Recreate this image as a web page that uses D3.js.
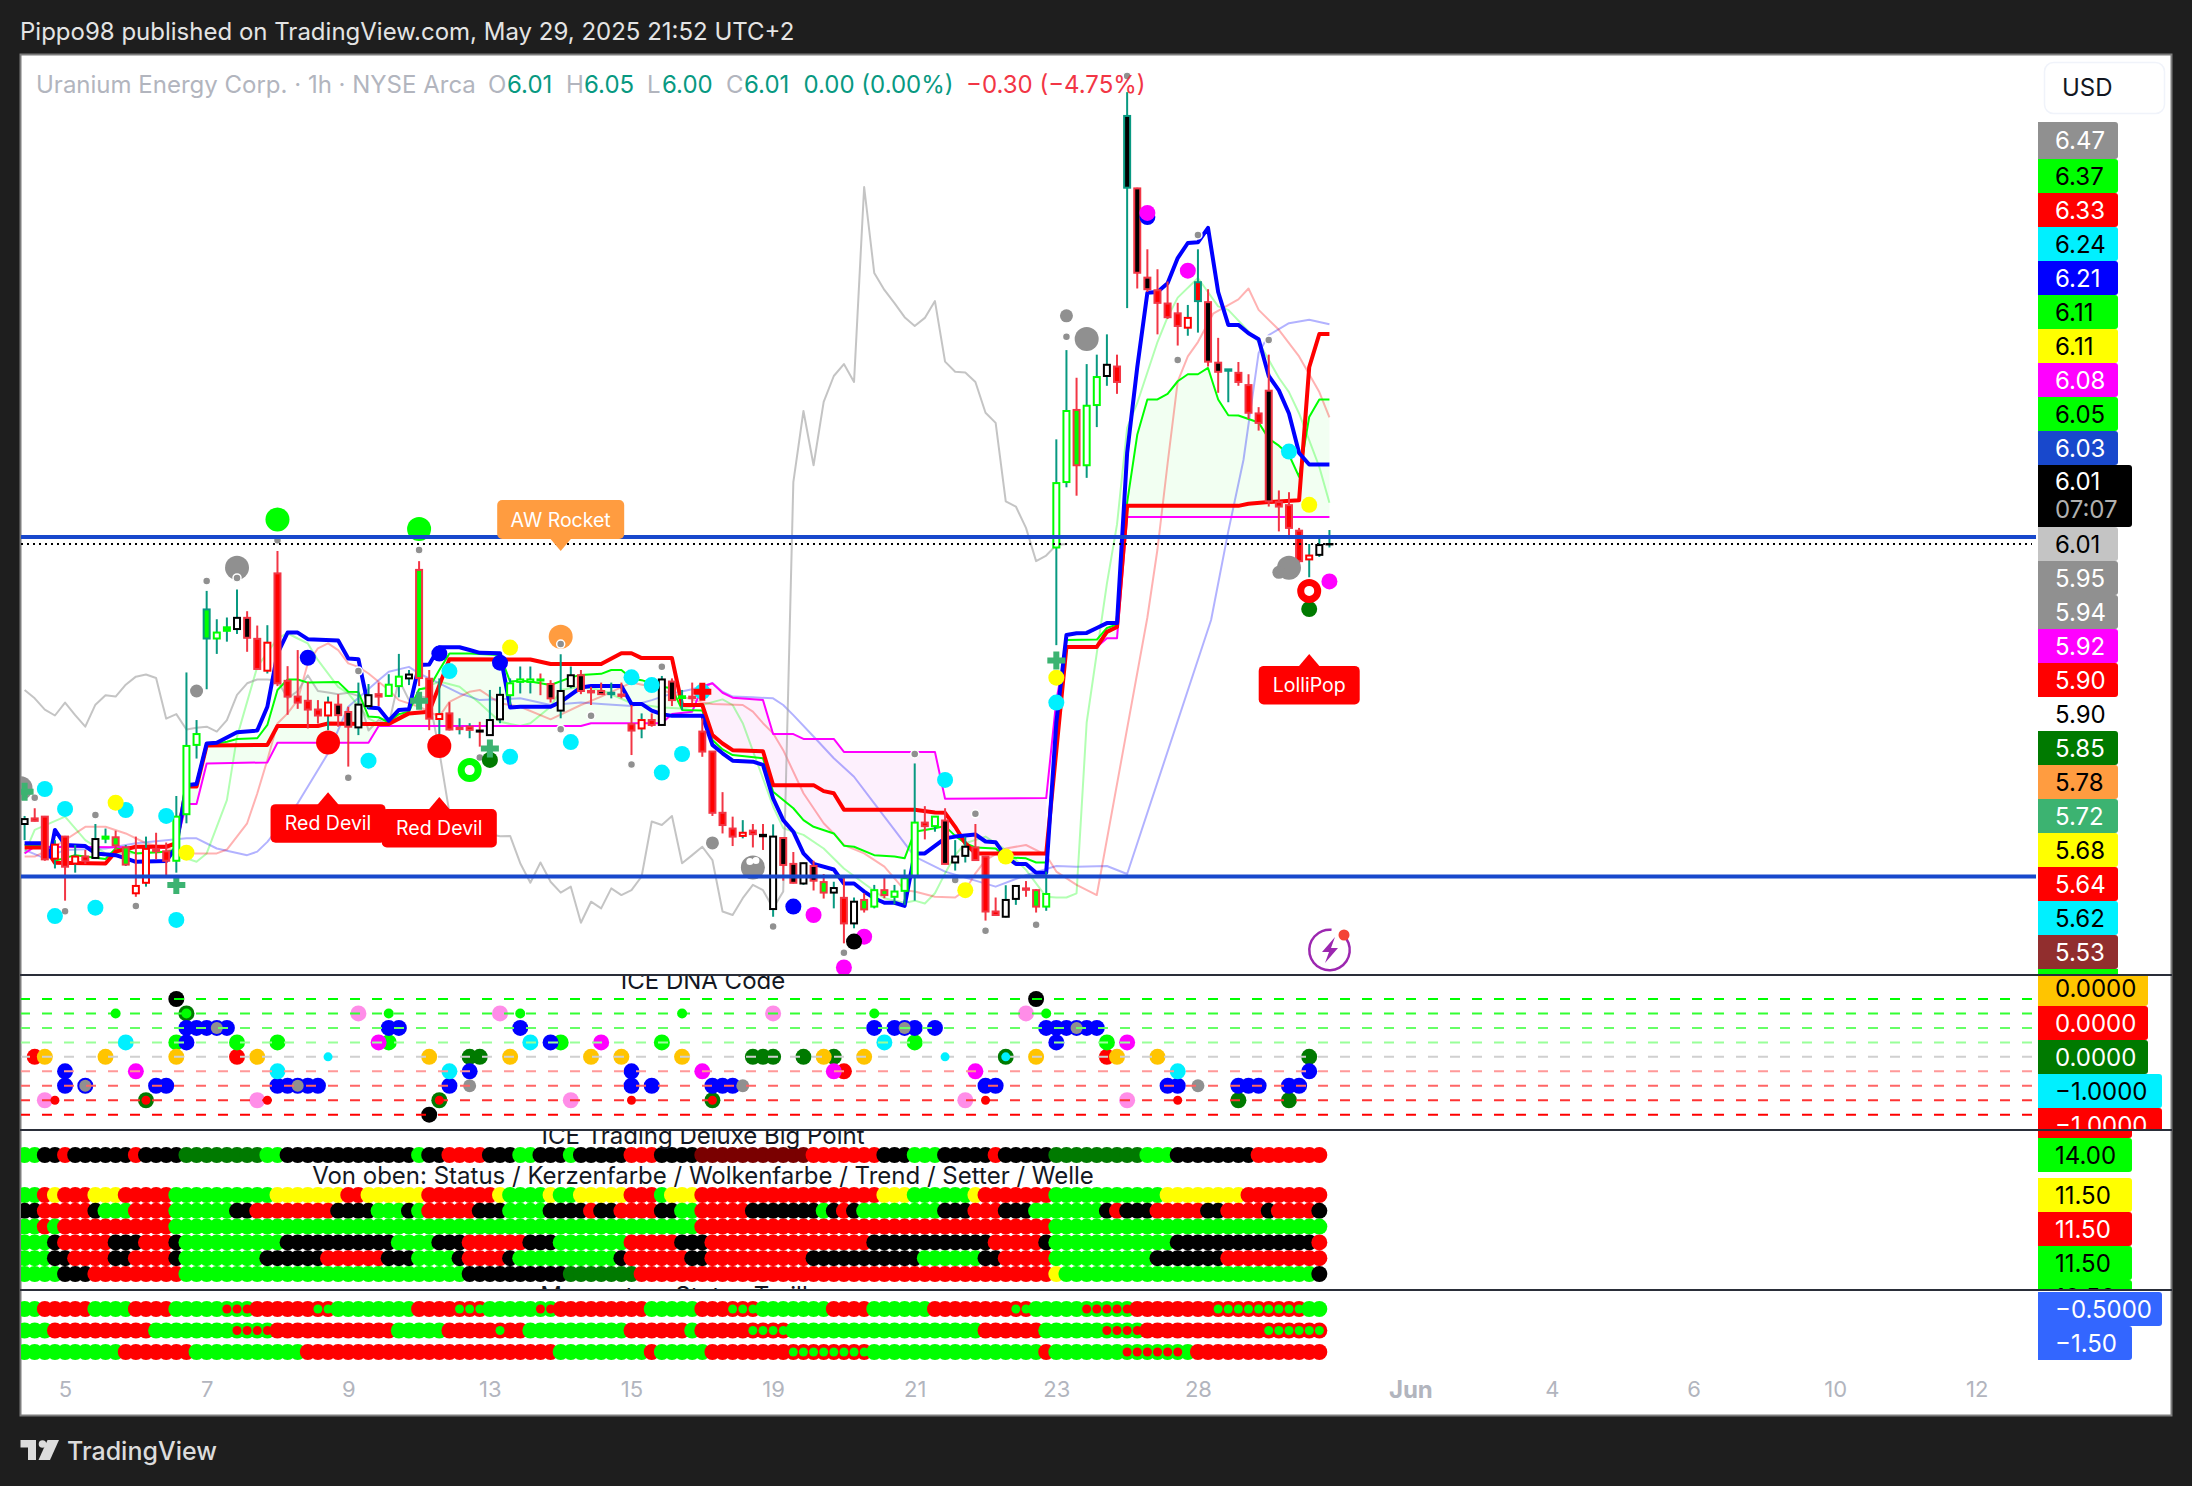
<!DOCTYPE html>
<html><head><meta charset="utf-8">
<script src="https://cdn.jsdelivr.net/npm/d3@7/dist/d3.min.js"></script>
<style>html,body{margin:0;padding:0;background:#1e1e1e}svg{display:block}text{font-family:Inter,"Noto Sans",sans-serif}</style>
</head><body><svg id="c" width="2192" height="1486"></svg>
<script>
// ---------- candles (bar 0 .. 129) ----------
const opens=[5.210,5.226,5.231,5.111,5.174,5.097,5.117,5.113,5.168,5.172,5.094,5.033,5.042,5.137,5.132,5.105,5.238,5.436,5.740,5.740,5.762,5.767,5.799,5.739,5.648,5.926,5.619,5.574,5.562,5.537,5.520,5.551,5.530,5.486,5.547,5.581,5.576,5.604,5.626,5.936,5.625,5.510,5.526,5.481,5.479,5.477,5.464,5.509,5.578,5.616,5.616,5.623,5.610,5.534,5.604,5.635,5.590,5.590,5.581,5.580,5.495,5.483,5.507,5.493,5.617,5.570,5.574,5.474,5.417,5.242,5.197,5.176,5.191,5.179,4.967,5.170,5.096,5.040,5.090,5.044,5.014,4.999,4.926,4.993,4.974,5.021,5.002,5.019,5.060,5.214,5.204,5.220,5.100,5.119,5.143,5.117,4.960,4.945,4.996,5.026,5.021,4.974,6.000,6.187,6.393,6.235,6.407,6.490,6.517,7.028,7.026,6.771,6.735,6.697,6.669,6.628,6.704,6.701,6.528,6.505,6.499,6.464,6.383,6.448,6.130,6.121,6.048,5.966,5.979,6.010];
const highs=[5.233,5.255,5.233,5.164,5.176,5.150,5.136,5.210,5.197,5.191,5.150,5.174,5.174,5.185,5.157,5.290,5.643,5.507,5.876,5.795,5.800,5.880,5.818,5.777,5.778,5.990,5.661,5.707,5.616,5.564,5.574,5.581,5.545,5.614,5.610,5.614,5.638,5.696,5.650,5.961,5.650,5.626,5.558,5.512,5.498,5.502,5.593,5.602,5.626,5.660,5.660,5.640,5.621,5.695,5.660,5.650,5.602,5.614,5.614,5.614,5.550,5.526,5.526,5.633,5.626,5.593,5.614,5.512,5.418,5.301,5.231,5.221,5.210,5.210,5.209,5.172,5.130,5.100,5.105,5.067,5.045,5.058,5.000,5.012,5.036,5.058,5.036,5.080,5.383,5.261,5.232,5.255,5.164,5.174,5.210,5.119,5.000,5.035,5.034,5.047,5.024,5.074,6.309,6.564,6.485,6.524,6.551,6.609,6.551,7.301,7.028,6.852,6.795,6.760,6.699,6.693,6.852,6.738,6.599,6.509,6.530,6.495,6.401,6.551,6.163,6.158,6.056,6.010,6.031,6.050];
const lows=[5.164,5.217,5.105,5.083,4.991,5.071,5.096,5.111,5.155,5.136,5.090,5.002,5.031,5.109,5.059,5.071,5.212,5.397,5.595,5.696,5.731,5.753,5.702,5.652,5.640,5.604,5.522,5.539,5.483,5.497,5.478,5.488,5.374,5.464,5.540,5.547,5.574,5.572,5.607,5.604,5.478,5.459,5.477,5.466,5.455,5.431,5.463,5.498,5.550,5.583,5.583,5.578,5.557,5.512,5.598,5.581,5.550,5.579,5.569,5.569,5.407,5.455,5.488,5.492,5.547,5.536,5.555,5.402,5.233,5.183,5.147,5.169,5.143,5.136,4.945,5.048,5.040,5.036,5.020,4.997,4.969,4.869,4.912,4.957,4.969,4.998,4.981,4.979,4.991,5.166,5.188,5.095,5.077,5.100,5.105,4.934,4.949,4.943,4.979,5.002,4.957,4.962,5.721,6.172,6.148,6.199,6.344,6.462,6.439,6.684,6.740,6.730,6.609,6.653,6.577,6.605,6.614,6.517,6.442,6.415,6.462,6.367,6.334,6.117,6.046,6.024,5.941,5.915,5.973,6.000];
const closes=[5.224,5.219,5.109,5.151,5.088,5.117,5.105,5.167,5.174,5.149,5.143,5.012,5.139,5.132,5.105,5.231,5.433,5.467,5.823,5.757,5.772,5.799,5.742,5.653,5.728,5.612,5.574,5.557,5.537,5.520,5.557,5.521,5.488,5.551,5.578,5.574,5.608,5.631,5.637,5.627,5.511,5.524,5.480,5.485,5.488,5.474,5.507,5.579,5.612,5.623,5.623,5.620,5.569,5.590,5.635,5.590,5.586,5.581,5.585,5.576,5.477,5.507,5.493,5.623,5.564,5.575,5.570,5.417,5.242,5.207,5.174,5.185,5.181,5.175,5.174,5.093,5.042,5.098,5.048,5.014,5.027,4.926,4.988,4.966,5.021,5.007,5.017,5.055,5.214,5.204,5.231,5.096,5.117,5.145,5.107,4.960,4.950,4.993,5.033,5.022,4.974,5.010,6.184,6.390,6.235,6.405,6.487,6.522,6.473,7.233,6.785,6.738,6.699,6.658,6.633,6.656,6.758,6.531,6.502,6.509,6.473,6.385,6.356,6.132,6.117,6.056,5.961,5.977,6.007,6.010];
const candleKinds="kRRrRrRkgL"+"LrrRRhhhTh"+"gkBRrRRRRR"+"rBBkkRhhkL"+"RrRRRDkkhh"+"hgBkkBRBZR"+"RrRkBgRRRR"+"RrRDkBBkBL"+"kRkLhLhhhR"+"hBkkRRRkkR"+"LhhhLhhkRK"+"BBRRRrSBBZ"+"RRRBRRRrkD";
// ---------- overlay lines: [bar, price] ----------
const lineBlue=[[0,5.155],[2,5.155],[2.5,5.117],[3,5.193],[4,5.150],[6,5.147],[7,5.126],[9,5.121],[10,5.112],[11,5.102],[14,5.104],[15,5.145],[16,5.321],[17,5.324],[18,5.440],[19,5.442],[21,5.472],[23,5.477],[24,5.545],[25,5.697],[26,5.757],[27,5.757],[28,5.738],[31,5.734],[32,5.683],[33,5.681],[34,5.543],[35,5.541],[36,5.505],[37,5.536],[38,5.538],[39,5.664],[40,5.666],[41,5.715],[43,5.715],[44,5.707],[45,5.699],[47,5.698],[48,5.543],[49,5.545],[52,5.545],[53,5.559],[55,5.600],[56,5.604],[59,5.604],[60,5.553],[61,5.553],[62,5.534],[63,5.524],[64,5.519],[67,5.519],[68,5.436],[69,5.412],[70,5.391],[72,5.388],[73,5.379],[74,5.283],[75,5.221],[76,5.188],[77,5.126],[78,5.096],[80,5.080],[81,5.040],[82,5.040],[83,5.017],[84,4.998],[85,4.985],[86,4.985],[87,4.976],[88,5.126],[89,5.126],[91,5.169],[92,5.174],[94,5.180],[95,5.160],[96,5.158],[97,5.117],[98,5.096],[99,5.096],[100,5.071],[101,5.071],[102,5.500],[103,5.750],[104,5.755],[105,5.756],[106,5.770],[107,5.784],[108,5.784],[109,6.270],[110,6.515],[111,6.728],[112,6.730],[113,6.755],[114,6.827],[115,6.870],[116,6.872],[117,6.913],[118,6.730],[119,6.636],[120,6.636],[121,6.612],[122,6.595],[123,6.490],[124,6.449],[125,6.383],[126,6.270],[127,6.237],[129,6.237]];
const lineRed=[[0,5.143],[2,5.143],[3,5.099],[8,5.097],[9,5.131],[11,5.145],[14,5.145],[15,5.155],[16,5.317],[17,5.317],[18,5.434],[24,5.436],[25,5.490],[29,5.490],[30,5.497],[34,5.496],[36,5.496],[38,5.526],[40,5.531],[42,5.681],[50,5.680],[52,5.667],[57,5.667],[59,5.698],[60,5.698],[61,5.684],[64,5.684],[65,5.550],[67,5.550],[68,5.464],[69,5.440],[70,5.421],[73,5.418],[74,5.321],[78,5.321],[79,5.304],[80,5.298],[81,5.251],[88,5.251],[90,5.243],[91,5.242],[92,5.202],[93,5.155],[94,5.126],[101,5.126],[102,5.420],[103,5.716],[106,5.716],[107,5.759],[108,5.773],[109,6.119],[120,6.119],[121,6.125],[123,6.130],[126,6.135],[127,6.515],[128,6.610],[129,6.610]];
const lineLime=[[0,5.150],[2,5.150],[3,5.105],[5,5.121],[8,5.110],[9,5.140],[10,5.136],[11,5.126],[14,5.131],[15,5.136],[16,5.321],[17,5.321],[18,5.434],[20,5.445],[21,5.453],[23,5.455],[24,5.493],[25,5.593],[26,5.623],[27,5.623],[28,5.614],[31,5.616],[32,5.588],[33,5.587],[34,5.517],[35,5.515],[36,5.500],[37,5.524],[38,5.531],[39,5.595],[40,5.599],[41,5.650],[42,5.697],[44,5.697],[47,5.693],[48,5.617],[49,5.619],[50,5.617],[52,5.607],[54,5.629],[55,5.636],[57,5.639],[58,5.650],[59,5.650],[60,5.626],[61,5.621],[62,5.612],[63,5.602],[64,5.598],[65,5.536],[67,5.534],[68,5.450],[69,5.423],[70,5.407],[73,5.398],[74,5.302],[76,5.255],[77,5.221],[78,5.202],[80,5.183],[81,5.148],[82,5.145],[84,5.121],[86,5.117],[87,5.112],[88,5.188],[90,5.198],[91,5.204],[92,5.176],[93,5.155],[94,5.143],[96,5.140],[97,5.115],[99,5.112],[100,5.100],[101,5.100],[102,5.450],[103,5.736],[106,5.737],[107,5.770],[108,5.780],[109,6.128],[110,6.322],[111,6.423],[112,6.423],[113,6.439],[114,6.475],[115,6.495],[116,6.495],[117,6.513],[118,6.423],[119,6.378],[120,6.377],[121,6.367],[122,6.357],[123,6.311],[124,6.291],[125,6.265],[126,6.202],[127,6.373],[128,6.423],[129,6.423]];
const lineMagenta=[[0,5.126],[1,5.145],[14,5.143],[15,5.155],[16,5.267],[17,5.267],[18,5.383],[24,5.386],[25,5.442],[34,5.442],[35,5.490],[55,5.490],[56,5.498],[63,5.498],[64,5.524],[66,5.531],[67,5.602],[68,5.612],[69,5.585],[70,5.571],[73,5.564],[74,5.467],[76,5.467],[77,5.453],[80,5.453],[81,5.416],[90,5.416],[91,5.282],[101,5.284],[102,5.564],[103,5.716],[106,5.716],[107,5.741],[108,5.741],[109,6.087],[129,6.087]];
const lineLightGreen=[[0,5.126],[1,5.193],[4,5.231],[6,5.164],[8,5.126],[10,5.126],[14,5.131],[17,5.102],[18,5.126],[20,5.278],[21,5.459],[23,5.659],[25,5.740],[26,5.755],[27,5.740],[28,5.726],[29,5.678],[31,5.602],[32,5.583],[34,5.512],[35,5.497],[36,5.502],[38,5.536],[39,5.593],[41,5.617],[43,5.602],[45,5.555],[47,5.502],[49,5.490],[50,5.498],[52,5.545],[53,5.593],[55,5.602],[57,5.593],[60,5.555],[63,5.543],[65,5.540],[67,5.550],[69,5.566],[70,5.550],[71,5.498],[73,5.340],[74,5.260],[75,5.198],[77,5.179],[79,5.140],[81,5.083],[83,5.040],[85,4.998],[87,4.985],[88,4.991],[89,4.983],[90,5.012],[91,5.069],[92,5.121],[93,5.155],[95,5.174],[97,5.136],[99,5.079],[101,5.002],[102,5.000],[103,5.000],[104,5.012],[105,5.500],[107,5.897],[108,6.066],[109,6.342],[110,6.413],[112,6.587],[113,6.658],[114,6.714],[116,6.770],[118,6.689],[119,6.679],[122,6.587],[124,6.485],[125,6.444],[126,6.383],[128,6.230],[129,6.128]];
const lineLightRed=[[0,5.117],[1,5.117],[3,5.145],[6,5.202],[8,5.202],[10,5.183],[12,5.155],[16,5.126],[19,5.126],[20,5.137],[22,5.212],[23,5.297],[24,5.393],[25,5.497],[26,5.526],[27,5.564],[28,5.669],[29,5.712],[30,5.726],[31,5.707],[32,5.669],[33,5.659],[34,5.640],[36,5.593],[37,5.564],[39,5.545],[41,5.517],[42,5.559],[44,5.588],[45,5.593],[47,5.555],[49,5.545],[52,5.509],[55,5.550],[57,5.574],[60,5.614],[62,5.602],[65,5.574],[67,5.557],[68,5.553],[71,5.550],[72,5.531],[73,5.498],[74,5.469],[75,5.421],[77,5.298],[79,5.212],[80,5.183],[81,5.150],[83,5.126],[85,5.088],[87,5.021],[88,5.017],[90,5.002],[92,5.000],[93,5.021],[94,5.069],[95,5.107],[97,5.140],[99,5.150],[101,5.121],[102,5.074],[104,5.036],[106,5.007],[111,5.800],[112,5.995],[113,6.240],[114,6.474],[115,6.546],[116,6.587],[117.5,6.668],[120,6.709],[121,6.740],[122,6.679],[124,6.622],[126,6.546],[128,6.444],[129,6.372]];
const lineLightBlue=[[0,5.136],[2,5.112],[4,5.136],[8,5.140],[11,5.155],[16,5.169],[17,5.169],[19,5.140],[22,5.121],[23,5.131],[24,5.159],[27,5.269],[30,5.412],[32,5.545],[35,5.621],[36,5.645],[38,5.659],[39,5.640],[41,5.612],[43,5.583],[44,5.574],[45,5.564],[49,5.569],[52,5.550],[55,5.557],[57,5.553],[60,5.547],[62,5.564],[64,5.583],[66,5.595],[68,5.612],[69,5.588],[70,5.574],[72,5.572],[74,5.569],[75,5.550],[76,5.521],[78,5.460],[80,5.398],[82,5.345],[84,5.269],[86,5.193],[88,5.117],[91,5.074],[96,5.031],[99,5.064],[102,5.090],[104,5.088],[107,5.090],[109,5.067],[117.3,5.793],[119,6.046],[120.5,6.250],[122,6.556],[123,6.607],[125,6.641],[127,6.651],[129,6.638]];
const laggingCloses=[5.593,5.569,5.537,5.520,5.557,5.521,5.488,5.551,5.578,5.574,5.608,5.631,5.637,5.627,5.511,5.524,5.480,5.485,5.488,5.474,5.507,5.579,5.612,5.623,5.623,5.620,5.569,5.590,5.635,5.590,5.586,5.581,5.585,5.576,5.477,5.507,5.493,5.623,5.564,5.575,5.570,5.417,5.242,5.207,5.174,5.185,5.181,5.175,5.176,5.098,5.042,5.100,5.045,5.014,5.031,4.928,4.988,4.969,5.026,5.007,5.021,5.060,5.217,5.207,5.233,5.098,5.121,5.145,5.107,4.960,4.950,4.998,5.036,5.021,4.969,5.017,6.187,6.390,6.235,6.416,6.490,6.524,6.473,7.030,6.784,6.736,6.698,6.658,6.633,6.656,6.704,6.531,6.502,6.500,6.473,6.385,6.356,6.132,6.117,6.056,5.961,5.977,6.007,6.010];
const priceLevels=[6.03,5.06];
const lastPrice=6.01;
// ---------- main pane markers: [bar, price] ----------
const markersCyan=[[2,5.310],[4,5.253],[10,5.250],[14,5.233],[3,4.947],[7,4.971],[15,4.936],[34,5.391],[42,5.647],[60,5.629],[62,5.607],[54,5.444],[48,5.402],[63,5.357],[65,5.410],[67,5.588],[91,5.336],[102,5.557],[125,6.274]];
const markersYellow=[[9,5.271],[16,5.128],[48,5.714],[93,5.021],[97,5.117],[102,5.628],[127,6.122]];
const markersOrange=[[53,5.745]];
const markersLimeBig=[[25,6.080],[39,6.053]];
const markersRedBig=[[30,5.443],[41,5.433]];
const markersBlue=[[28,5.685],[41,5.697],[47,5.671],[76,4.974],[111,6.944]];
const markersMagenta=[[78,4.950],[83,4.888],[81,4.800],[111,6.956],[115,6.791],[129,5.903]];
const markersBlack=[[82,4.874]];
const markersDark=[[46,5.393],[127,5.824]];
const ringsLime=[[44,5.364]];
const ringsRed=[[127,5.876]];
const plusesGreen=[[0,5.302],[15,5.036],[39,5.562],[46,5.426],[102,5.677]];
const plusesRed=[[67,5.588]];
const markersGreyTiny=[[1,5.285],[4,4.961],[7,5.236],[11,4.976],[18,5.904],[21,5.913],[25,6.021],[32,5.342],[39,5.993],[33,5.647],[45,5.400],[53,5.724],[53,5.481],[56,5.519],[60,5.380],[63,5.659],[74,4.917],[81,4.842],[88,5.410],[94,5.239],[92,5.050],[95,4.905],[100,4.922],[109,7.347],[116,6.893],[114,6.536],[123,6.593],[103,6.602]];
const markersGreyMid=[[17,5.590],[68,5.156],[103,6.662],[124,5.929]];
const markersGreyBig=[[21,5.942],[72,5.086],[105,6.596],[125,5.942],[-0.4,5.312]];
const markersHalo=[[72.3,5.106],[71.7,5.103]];
const signalNames=["AW Rocket","Red Devil","Red Devil","LolliPop"];
const signalBars=[53,30,41,127];
const signalPrices=[5.990,5.301,5.287,5.696];
const signalDirs=[-1,1,1,1];
// ---------- DNA pane: [bar, level] ----------
const dnaLevels=[4,3,2,1,0,-1,-2,-3,-4];
const dnaRed=[[1,0],[21,0],[107,0],[81,-1]];
const dnaDark=[[44,0],[45,0],[72,0],[73,0],[74,0],[77,0],[80,0],[127,0],[120,-3],[125,-3],[16,3],[12,-3],[41,-3],[68,-3],[97,0]];
const dnaLime=[[15,1],[21,1],[25,1],[36,1],[53,1],[63,1],[88,1],[107,1]];
const dnaBlue=[[16,2],[17,2],[18,2],[19,2],[20,2],[36,2],[37,2],[49,2],[84,2],[86,2],[87,2],[88,2],[90,2],[101,2],[102,2],[103,2],[104,2],[105,2],[106,2],[16,1],[52,1],[102,1],[4,-1],[44,-1],[60,-1],[127,-1],[4,-2],[6,-2],[13,-2],[14,-2],[25,-2],[26,-2],[27,-2],[28,-2],[29,-2],[42,-2],[60,-2],[62,-2],[68,-2],[69,-2],[70,-2],[95,-2],[96,-2],[113,-2],[114,-2],[120,-2],[121,-2],[122,-2],[125,-2],[126,-2]];
const dnaCyan=[[10,1],[50,1],[85,1],[25,-1],[42,-1],[114,-1]];
const dnaMagenta=[[35,1],[57,1],[109,1],[11,-1],[67,-1],[80,-1],[94,-1]];
const dnaOrange=[[2,0],[8,0],[15,0],[23,0],[40,0],[48,0],[56,0],[59,0],[65,0],[79,0],[83,0],[100,0],[108,0],[112,0]];
const dnaPink=[[33,3],[47,3],[74,3],[99,3],[2,-3],[23,-3],[54,-3],[93,-3],[109,-3]];
const dnaGrey=[[44,-2],[71,-2],[116,-2]];
const dnaGreySmall=[[19,2],[87,2],[104,2],[6,-2],[27,-2]];
const dnaBlack=[[15,4],[100,4],[40,-4]];
const dnaLimeSmall=[[9,3],[36,3],[49,3],[65,3],[84,3],[101,3],[16,3]];
const dnaCyanSmall=[[30,0],[91,0],[97,0]];
const dnaRedSmall=[[3,-3],[12,-3],[24,-3],[41,-3],[60,-3],[68,-3],[95,-3],[114,-3]];
// ---------- dot strips: [colour code, last bar of the run] ----------
const runsBigPoint=[["L",1],["K",3],["R",4],["K",10],["R",11],["K",15],["G",23],["L",25],["K",38],["L",39],["K",41],["R",45],["K",48],["L",50],["K",53],["L",54],["K",59],["R",62],["K",66],["M",77],["R",84],["K",87],["L",90],["K",95],["R",96],["K",101],["G",110],["L",113],["K",121],["R",128]];
const runsStatus=[
[["L",1],["R",2],["Y",3],["R",6],["Y",9],["R",14],["L",24],["Y",31],["R",33],["Y",39],["R",46],["Y",47],["L",51],["Y",52],["L",54],["Y",59],["R",62],["L",63],["Y",66],["R",84],["Y",87],["L",93],["Y",94],["R",101],["L",112],["Y",120],["R",128]],
[["K",1],["R",6],["K",7],["L",10],["R",14],["L",20],["K",22],["R",30],["K",34],["L",37],["K",38],["L",39],["R",44],["K",47],["L",51],["K",55],["R",56],["K",58],["R",62],["K",64],["L",66],["R",71],["K",78],["L",79],["K",80],["R",81],["K",82],["L",90],["K",93],["R",96],["K",99],["L",106],["K",107],["R",108],["K",111],["R",116],["K",118],["R",122],["K",123],["R",127],["K",128]],
[["L",1],["R",2],["L",3],["R",14],["L",66],["R",101],["L",128]],
[["L",2],["K",3],["R",8],["K",11],["R",14],["K",15],["L",25],["K",36],["L",40],["K",43],["R",49],["K",52],["L",59],["R",64],["K",67],["R",83],["K",95],["R",100],["K",101],["L",113],["K",127],["R",128]],
[["L",2],["K",4],["R",8],["K",10],["R",14],["K",15],["L",23],["K",29],["R",35],["K",38],["L",42],["K",43],["R",47],["K",48],["L",58],["K",59],["R",65],["K",67],["R",77],["K",88],["L",94],["K",96],["R",101],["L",111],["K",118],["R",128]],
[["L",3],["K",6],["R",15],["L",43],["K",53],["G",60],["R",101],["Y",102],["L",127],["K",128]]];
const runsMomentum=[
[["L",1],["R",6],["L",10],["R",14],["L",19],["x",22],["R",28],["y",30],["L",38],["R",42],["y",45],["L",50],["x",52],["R",61],["L",66],["R",69],["y",72],["L",79],["R",83],["L",89],["R",97],["y",99],["L",104],["x",109],["R",117],["y",126],["L",128]],
[["L",2],["R",12],["L",20],["x",24],["R",36],["L",41],["R",46],["y",47],["R",49],["L",59],["R",65],["L",66],["R",71],["y",75],["L",94],["R",100],["L",106],["x",110],["R",122],["y",128]],
[["L",9],["R",16],["L",27],["R",52],["L",61],["R",62],["L",67],["R",75],["y",83],["L",100],["R",101],["L",108],["x",114],["L",115],["R",128]]];
// ---------- axis texts ----------
const timeBars=[4,18,32,46,60,74,88,102,116,137,151,165,179,193];
const timeLabels=["5","7","9","13","15","19","21","23","28","Jun","4","6","10","12"];
const priceTexts=["6.47","6.37","6.33","6.24","6.21","6.11","6.11","6.08","6.05","6.03","6.01","6.01","5.95","5.94","5.92","5.90","5.90","5.85","5.78","5.72","5.68","5.64","5.62","5.53"];
const dnaTexts=["0.0000","0.0000","0.0000","−1.0000","−1.0000"];
const stripTexts=["14.00","11.50","11.50","11.50","10.50"];
const momentumTexts=["−0.5000","−1.50"];
const countdown="07:07";

// ---------- styling ----------
const C={lime:"#00ff00",red:"#ff0000",blue:"#0000ff",mag:"#ff00ff",cyan:"#00f0ff",yel:"#ffff00",org:"#ff9c40",amber:"#ffc400",dark:"#007a00",grey:"#909090",pink:"#ff8de8",sea:"#3cb371",hblue:"#1848cc",up:"#089981",dn:"#f23645",maroon:"#7a0000",axis:"#b2b5be",sep:"#2a2e39"};
const svg=d3.select("#c");
const x=d3.scaleLinear().domain([0,193]).range([24.6,24.6+193*10.115]);
const y=d3.scaleLinear().domain([6.01,5.06]).range([544,876.5]);
svg.append("rect").attr("width",2192).attr("height",1486).attr("fill","#1e1e1e");
svg.append("rect").attr("x",20.5).attr("y",54.5).attr("width",2151).attr("height",1361).attr("fill","#fff").attr("stroke","#7c7c7c").attr("stroke-width",2);
const defs=svg.append("defs");
function clip(id,a,b,c,d){defs.append("clipPath").attr("id",id).append("rect").attr("x",a).attr("y",b).attr("width",c).attr("height",d);}
clip("cMain",21,55,2015,920);clip("cDna",21,976,2150,154);clip("cStrip",21,1131,2150,159);clip("cMom",21,1291,2150,100);
const gMain=svg.append("g").attr("clip-path","url(#cMain)");
const line=d3.line().x(d=>x(d[0])).y(d=>y(d[1]));
// cloud fills
function cloud(a,b,fill){const inR=d=>d[0]>=a&&d[0]<=b;const pts=lineLime.filter(inR).concat(lineMagenta.filter(inR).reverse());
  gMain.append("path").attr("d",line(pts)+"Z").attr("fill",fill);}
cloud(15,66,"#f2fff2");cloud(67,101,"#fdf0fd");cloud(102,129,"#f2fff2");
function draw(data,color,w,op){gMain.append("path").attr("d",line(data)).attr("fill","none").attr("stroke",color).attr("stroke-width",w).attr("stroke-opacity",op||1).attr("stroke-linejoin","round");}
draw(lineLightBlue,C.blue,2,.3);draw(lineLightGreen,C.lime,2,.3);draw(lineLightRed,C.red,2,.3);
draw(laggingCloses.map((v,i)=>[i,v]),"#a0a0a0",2,.62);
priceLevels.forEach(p=>{svg.append("line").attr("x1",21).attr("x2",2036).attr("y1",y(p)).attr("y2",y(p)).attr("stroke",C.hblue).attr("stroke-width",4);});
draw(lineMagenta,C.mag,2);draw(lineLime,C.lime,2);draw(lineRed,C.red,4);draw(lineBlue,C.blue,4);
svg.append("line").attr("x1",21).attr("x2",2032).attr("y1",y(lastPrice)).attr("y2",y(lastPrice)).attr("stroke","#000").attr("stroke-width",2).attr("stroke-dasharray","2 4");
// candles
const kinds={R:[C.red,C.dn],B:["#000",C.dn],L:[C.lime,C.dn],r:["#fff",C.red],h:["#fff",C.lime],k:["#fff","#000"],g:[C.lime,C.lime],D:["#000","#000"],T:[C.lime,C.up],K:["#000",C.up],S:[C.red,C.up],Z:[C.up,C.up]};
const gC=gMain.append("g");
opens.forEach((o,i)=>{const c=closes[i],col=c>=o?C.up:C.dn,[f,s]=kinds[candleKinds[i]];
  gC.append("line").attr("x1",x(i)).attr("x2",x(i)).attr("y1",y(highs[i])).attr("y2",y(lows[i])).attr("stroke",col).attr("stroke-width",2);
  const t=y(Math.max(o,c)),b=y(Math.min(o,c));
  gC.append("rect").attr("x",x(i)-3).attr("width",6).attr("y",t).attr("height",Math.max(b-t,.4)).attr("fill",f).attr("stroke",s).attr("stroke-width",2);});
// markers
function dots(data,color,r,extra){gMain.append("g").selectAll("circle").data(data).join("circle").attr("cx",d=>x(d[0])).attr("cy",d=>y(d[1])).attr("r",r).attr("fill",color).call(s=>{if(extra)s.attr("stroke",extra).attr("stroke-width",1.5);});}
dots(markersGreyBig,C.grey,12);dots(markersGreyMid,C.grey,6.5);dots(markersHalo,"#fff",3.5);
dots(markersOrange,C.org,12);
dots(markersGreyTiny,C.grey,4,"#fff");
dots(markersLimeBig,C.lime,12);dots(markersRedBig,C.red,12);dots(markersBlue,C.blue,8);dots(markersMagenta,C.mag,8);dots(markersCyan,C.cyan,8);dots(markersYellow,C.yel,8);dots(markersBlack,"#000",8);dots(markersDark,C.dark,8);
function rings(data,color){gMain.append("g").selectAll("circle").data(data).join("circle").attr("cx",d=>x(d[0])).attr("cy",d=>y(d[1])).attr("r",8.5).attr("fill","#fff").attr("stroke",color).attr("stroke-width",7);}
rings(ringsLime,C.lime);rings(ringsRed,C.red);
const cross=d3.symbol().type(d3.symbolCross).size(180);
function pluses(data,color){gMain.append("g").selectAll("path").data(data).join("path").attr("d",cross).attr("transform",d=>`translate(${x(d[0])},${y(d[1])})`).attr("fill",color);}
pluses(plusesGreen,C.sea);pluses(plusesRed,C.red);
// signal flags
signalNames.forEach((n,i)=>{const cx=x(signalBars[i]),tip=y(signalPrices[i]),d=signalDirs[i],col=n=="AW Rocket"?C.org:C.red;
  const g=svg.append("g");const w=n=="LolliPop"?101:(n=="AW Rocket"?127:115);
  const top=d>0?tip+12:tip-12-39,h=d>0?38.5:39;
  g.append("rect").attr("x",cx-w/2).attr("y",top).attr("width",w).attr("height",h).attr("rx",5).attr("fill",col);
  g.append("path").attr("d",`M${cx-11} ${d>0?top+1:top+h-1}L${cx} ${tip}L${cx+11} ${d>0?top+1:top+h-1}Z`).attr("fill",col);
  g.append("text").attr("x",cx).attr("y",top+h/2+7).attr("text-anchor","middle").attr("fill","#fff").attr("font-size",19.5).text(n);});
// power icon
const ic=svg.append("g");
ic.append("path").attr("d",d3.arc()({innerRadius:19,outerRadius:21.5,startAngle:.75,endAngle:2*Math.PI+.1})).attr("transform","translate(1329.5,950)").attr("fill","#9c27b0");
ic.append("path").attr("d","M1335 937L1322 952H1329L1325 963L1338 948H1331Z").attr("fill","#9c27b0");
ic.append("circle").attr("cx",1344).attr("cy",935).attr("r",5.5).attr("fill","#f44336");
// DNA pane
const yDna=d3.scaleLinear().domain([4,-4]).range([999,1114.7]);
const gD=svg.append("g").attr("clip-path","url(#cDna)");
const dnaColors=["#00ff00","#33ff33","#66ff66","#99ff99","#d0d0d0","#ff9999","#ff6666","#ff3333","#ff0000"];
function dna(data,color,r){gD.append("g").selectAll("circle").data(data).join("circle").attr("cx",d=>x(d[0])).attr("cy",d=>yDna(d[1])).attr("r",r).attr("fill",color);}
dna(dnaRed,C.red,8);dna(dnaDark,C.dark,8);dna(dnaLime,C.lime,8);dna(dnaBlue,C.blue,8);dna(dnaCyan,C.cyan,8);dna(dnaMagenta,C.mag,8);dna(dnaOrange,C.amber,8);dna(dnaPink,C.pink,8);dna(dnaGrey,C.grey,6.5);dna(dnaGreySmall,C.grey,6);dna(dnaBlack,"#000",8);
dnaLevels.forEach((l,i)=>{gD.append("line").attr("x1",20).attr("x2",2036).attr("y1",yDna(l)).attr("y2",yDna(l)).attr("stroke",dnaColors[i]).attr("stroke-width",2).attr("stroke-dasharray","10 12");});
dna(dnaLimeSmall,C.lime,5);dna(dnaCyanSmall,C.cyan,4.5);dna(dnaRedSmall,C.red,4.5);
function title(g,t,yy){g.append("text").attr("x",703).attr("y",yy).attr("text-anchor","middle").attr("fill","#131722").attr("font-size",24).text(t);}
title(gD,"ICE DNA Code",989);
// strips
const gS=svg.append("g").attr("clip-path","url(#cStrip)");
const gM=svg.append("g").attr("clip-path","url(#cMom)");
const stripCol={L:C.lime,K:"#000",R:C.red,G:C.dark,M:C.maroon,Y:C.yel};
function expand(runs){const out=[];let s=0;runs.forEach(([c,e])=>{for(let i=s;i<=e;i++)out.push([i,c]);s=e+1;});return out;}
function strip(g,runs,yy){const pts=expand(runs);
  g.append("g").selectAll("circle").data(pts).join("circle").attr("cx",d=>x(d[0])).attr("cy",yy).attr("r",8)
   .attr("fill",d=>d[1]=="x"?C.lime:d[1]=="y"?C.red:stripCol[d[1]]);
  g.append("g").selectAll("circle").data(pts.filter(d=>d[1]=="x"||d[1]=="y")).join("circle").attr("cx",d=>x(d[0])).attr("cy",yy).attr("r",4.5)
   .attr("fill",d=>d[1]=="x"?C.red:C.lime);}
strip(gS,runsBigPoint,1155);
const yStatus=d3.scaleLinear().domain([0,5]).range([1195,1274]);
runsStatus.forEach((r,i)=>strip(gS,r,yStatus(i)));
const yMom=d3.scaleLinear().domain([0,2]).range([1309,1352]);
runsMomentum.forEach((r,i)=>strip(gM,r,yMom(i)));
title(gS,"ICE Trading Deluxe Big Point",1144);
title(gS,"Von oben: Status / Kerzenfarbe / Wolkenfarbe / Trend / Setter / Welle",1184);
title(gS,"Momentum Status Trailkurve",1304);
// right labels
function tag(g,top,h,w,fill,txt,ink,ty){const R=3,l=2038,r=l+w;
  if(fill!="none")g.append("path").attr("d",`M${l} ${top}H${r-R}Q${r} ${top} ${r} ${top+R}V${top+h-R}Q${r} ${top+h} ${r-R} ${top+h}H${l}Z`).attr("fill",fill);
  g.append("text").attr("x",2055).attr("y",ty||top+h/2+8.5).attr("fill",ink).attr("font-size",24).text(txt);}
const W="#fff",K="#000";
const priceFills=[C.grey,C.lime,C.red,C.cyan,C.blue,C.lime,C.yel,C.mag,C.lime,C.hblue,"#000","#c4c4c4",C.grey,C.grey,C.mag,C.red,"none",C.dark,C.org,C.sea,C.yel,C.red,C.cyan,"#912e2e"];
const priceInks=[W,K,W,K,W,K,K,W,K,W,W,K,W,W,W,W,K,W,K,W,K,W,K,W];
let yy=122;const gL=svg.append("g");
priceTexts.forEach((t,i)=>{
  if(i==0){tag(gL,yy,37,80,priceFills[i],t,priceInks[i]);yy+=37;}
  else if(i==10){tag(gL,yy,62,94,"#000",t,W,yy+25);gL.append("text").attr("x",2055).attr("y",yy+53).attr("fill","#b0b0b0").attr("font-size",24).text(countdown);yy+=62;}
  else{tag(gL,yy,34,80,priceFills[i],t,priceInks[i]);yy+=34;}});
svg.append("path").attr("d","M2038 969H2118V975H2038Z").attr("fill",C.lime);
const gL2=svg.append("g").attr("clip-path","url(#cDna)");
[[973,C.amber,K,110],[1006,C.red,W,110],[1040,C.dark,W,110],[1074,C.cyan,K,124],[1108,C.red,W,124]].forEach((a,i)=>tag(gL2,a[0],a[0]==973?33:34,a[3],a[1],dnaTexts[i],a[2],i==0?997:undefined));
const gL3=svg.append("g").attr("clip-path","url(#cStrip)");
[[1104,C.red,W,94,""],[1138,C.lime,K,94,stripTexts[0]],[1178,C.yel,K,94,stripTexts[1]],[1212,C.red,W,94,stripTexts[2]],[1246,C.lime,K,94,stripTexts[3]],[1280,C.lime,K,94,stripTexts[4]]].forEach(a=>tag(gL3,a[0],34,a[3],a[1],a[4],a[2]));
const gL4=svg.append("g").attr("clip-path","url(#cMom)");
tag(gL4,1292,34,124,"#3366ff",momentumTexts[0],W);tag(gL4,1326,34,94,"#3366ff",momentumTexts[1],W);
[975,1130,1290].forEach(v=>svg.append("line").attr("x1",20).attr("x2",2172).attr("y1",v).attr("y2",v).attr("stroke",C.sep).attr("stroke-width",2));
// USD button
svg.append("rect").attr("x",2044.5).attr("y",62.5).attr("width",120).attr("height",51).attr("rx",9).attr("fill","#fff").attr("stroke","#f0f3fa").attr("stroke-width",1.5);
svg.append("text").attr("x",2062).attr("y",96).attr("font-size",24).attr("fill","#131722").text("USD");
// time axis
const axis=d3.axisBottom(x).tickValues(timeBars).tickFormat((d,i)=>timeLabels[i]).tickSize(0).tickPadding(0);
const gA=svg.append("g").attr("transform","translate(0,1381)").call(axis);
gA.select(".domain").remove();
gA.selectAll("text").attr("font-size",(d,i)=>timeLabels[i]=="Jun"?24:22).attr("fill",C.axis).attr("font-family","Inter").attr("font-weight",(d,i)=>timeLabels[i]=="Jun"?700:400);
// legend
function leg(t,xx,col){svg.append("text").attr("x",xx).attr("y",93).attr("font-size",24).attr("fill",col).text(t);}
leg("Uranium Energy Corp. · 1h · NYSE Arca",36,C.axis);
[["O","6.01",488,507],["H","6.05",566,584],["L","6.00",647,662],["C","6.01",726,744]].forEach(a=>{leg(a[0],a[2],C.axis);leg(a[1],a[3],C.up);});
leg("0.00 (0.00%)",803.5,C.up);leg("−0.30 (−4.75%)",966,C.dn);
// header / footer
svg.append("text").attr("x",20).attr("y",39.5).attr("font-size",24).attr("fill","#e4e4e4").text("Pippo98 published on TradingView.com, May 29, 2025 21:52 UTC+2");
svg.append("text").attr("x",67).attr("y",1460).attr("font-size",25).attr("fill","#dcdcdc").attr("font-weight",500).text("TradingView");
const lg=svg.append("g").attr("fill","#dcdcdc");
lg.append("path").attr("d","M20.5 1440H36V1460H28V1447.5H20.5Z");
lg.append("circle").attr("cx",42.5).attr("cy",1444).attr("r",3.8);
lg.append("path").attr("d","M47.5 1440H59L50 1460H38.5Z");
</script></body></html>
